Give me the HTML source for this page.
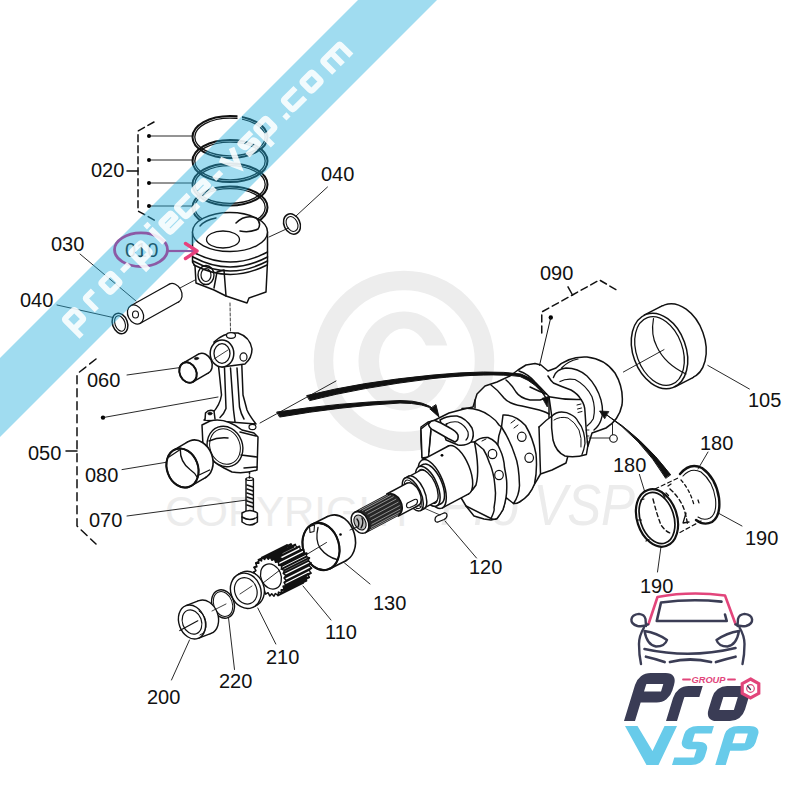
<!DOCTYPE html>
<html><head><meta charset="utf-8"><style>
html,body{margin:0;padding:0;background:#fff;width:800px;height:800px;overflow:hidden}
svg{display:block}
text{font-family:"Liberation Sans",sans-serif}
</style></head><body>
<svg width="800" height="800" viewBox="0 0 800 800">
<rect width="800" height="800" fill="#fff"/>
<circle cx="404" cy="361" r="80.5" fill="none" stroke="#ededed" stroke-width="19.5"/>
<path d="M358.5,361 A45.5,49.5 0 1 0 449.5,361 A45.5,49.5 0 1 0 358.5,361 Z M379,361 A25,32.5 0 1 1 429,361 A25,32.5 0 1 1 379,361 Z" fill="#ededed" fill-rule="evenodd"/>
<rect x="424" y="345.5" width="30" height="34.2" fill="#fff"/>
<g fill="#ececec">
<text x="165" y="526" font-size="42">COPYRIGHT</text>
<text x="440" y="525" font-size="58" font-style="italic" textLength="195" lengthAdjust="spacingAndGlyphs">Pro VSP</text>
</g>
<g fill="none" stroke="#111" stroke-width="1.5" stroke-linecap="round" stroke-linejoin="round">
<path d="M154,122 L138,131 L138,211 L156,221" stroke-dasharray="7,4"/>
<path d="M127,171 L138,171"/>
<circle cx="149" cy="136" r="2" fill="#000" stroke="none"/>
<path d="M149,136 L193,136" stroke-width="0.9"/>
<circle cx="149" cy="160" r="2" fill="#000" stroke="none"/>
<path d="M149,160 L193,160" stroke-width="0.9"/>
<circle cx="149" cy="183" r="2" fill="#000" stroke="none"/>
<path d="M149,183 L193,183" stroke-width="0.9"/>
<circle cx="149" cy="206" r="2" fill="#000" stroke="none"/>
<path d="M149,206 L193,206" stroke-width="0.9"/>
<ellipse cx="230" cy="137" rx="37.5" ry="21" stroke-width="2.0"/>
<ellipse cx="230" cy="137" rx="35.2" ry="18.9" stroke-width="1.3"/>
<ellipse cx="230" cy="161" rx="37.5" ry="21" stroke-width="2.0"/>
<ellipse cx="230" cy="161" rx="35.2" ry="18.9" stroke-width="1.3"/>
<ellipse cx="230" cy="184.5" rx="37.5" ry="21" stroke-width="2.0"/>
<ellipse cx="230" cy="184.5" rx="35.2" ry="18.9" stroke-width="1.3"/>
<ellipse cx="230" cy="207.5" rx="37.5" ry="21" stroke-width="2.0"/>
<ellipse cx="230" cy="207.5" rx="35.2" ry="18.9" stroke-width="1.3"/>
<path d="M192.5,232 L192.5,262 L195,266 L196,283 L214,290 L226,296 L247,303 L249,298 L266,292 L267.5,262 L267.5,232 Z" fill="#fff"/>
<ellipse cx="230" cy="232" rx="37.5" ry="19.5" fill="#fff" stroke-width="1.4"/>
<ellipse cx="223" cy="239.5" rx="16.5" ry="8.5" stroke-width="1.3"/>
<path d="M236,223 Q245,214 256,218 Q262,223 258,229 Q250,233 240,231"/>
<path d="M200,226 Q205,220 216,218"/>
<path d="M193,252 Q230,272 267.5,252"/>
<path d="M193,257 Q230,277 267.5,257" stroke-width="1.6"/>
<path d="M193,261 Q230,281 267.5,261"/>
<path d="M194,265 Q230,284 267,265"/>
<ellipse cx="206" cy="275" rx="8" ry="9.5" stroke-width="1.4"/>
<ellipse cx="206" cy="275" rx="5" ry="6.5" stroke-width="1.2"/>
<path d="M214,288 L217,272 L224,270 L226,296"/>
<path d="M230,303 L230.5,331" stroke-width="0.8" stroke-dasharray="3,2"/>
<ellipse cx="292" cy="224" rx="8" ry="10.5" transform="rotate(-25 292 224)" stroke-width="1.5"/>
<ellipse cx="292" cy="224" rx="5.5" ry="7.8" transform="rotate(-25 292 224)" stroke-width="1.1"/>
<path d="M327.5,187 L296,216" stroke-width="0.9"/>
<path d="M288.5,228 L269,237" stroke-width="0.9"/>
<ellipse cx="174" cy="293" rx="7.5" ry="10" transform="rotate(-28 174 293)" fill="#fff" stroke-width="1.3"/>
<path d="M140.3,323.3 L178.8,301.8 L169.2,284.2 L130.7,305.7Z" fill="#fff" stroke="none"/>
<path d="M140.3,323.3 L178.8,301.8 M130.7,305.7 L169.2,284.2" stroke-width="1.3"/>
<ellipse cx="135.5" cy="314.5" rx="7.5" ry="10" transform="rotate(-28 135.5 314.5)" fill="#fff" stroke-width="1.3"/>
<ellipse cx="135.5" cy="314.5" rx="3" ry="3.5" stroke-width="1.1"/>
<path d="M80,254 L136,301" stroke-width="0.9"/>
<path d="M180,288 L195,280" stroke-width="0.9"/>
<ellipse cx="120" cy="323.5" rx="7.5" ry="10.5" transform="rotate(-20 120 323.5)" stroke-width="1.5"/>
<ellipse cx="120" cy="323.5" rx="5" ry="8" transform="rotate(-20 120 323.5)" stroke-width="1.1"/>
<path d="M57,305 L113,317.5" stroke-width="0.9"/>
<rect x="237.5" y="112.5" width="4.5" height="8" fill="#fff" stroke="none"/>
<path d="M96,359 L77,374 L77,526 L96,544" stroke-dasharray="8,5"/>
<path d="M66,451 L77,451"/>
<circle cx="103" cy="417.6" r="2.2" fill="#000" stroke="none"/>
<path d="M103,417.6 L218,397" stroke-width="0.9"/>
<path d="M127,375 L184,367" stroke-width="0.9"/>
<path d="M122,469.6 L168,462" stroke-width="0.9"/>
<path d="M127,516 L247,500" stroke-width="0.9"/>
<ellipse cx="203.5" cy="363.5" rx="8.3" ry="10.6" transform="rotate(-25 203.5 363.5)" fill="#fff" stroke-width="1.5"/>
<path d="M193,381.8 L208.5,372.8 L198.5,354.2 L183,363.2Z" fill="#fff" stroke="none"/>
<path d="M193,381.8 L208.5,372.8 M183,363.2 L198.5,354.2" stroke-width="1.5"/>
<ellipse cx="188" cy="372.5" rx="8.3" ry="10.6" transform="rotate(-25 188 372.5)" fill="#fff" stroke-width="1.5"/>
<ellipse cx="188" cy="372.5" rx="8.3" ry="10.6" transform="rotate(-25 188 372.5)" stroke-width="1.9"/>
<ellipse cx="196.5" cy="358.5" rx="2.3" ry="1.2" transform="rotate(-8 196.5 358.5)" fill="#111" stroke-width="0.5"/>
<path d="M218.5,366 L220,380 L221.5,395 Q220,405 212.5,413 L204,420 L256,424 Q249,415 247,410 L243,395 L241.75,363.5 Z" fill="#fff"/>
<path d="M224.5,368 L226,408.5 Q224,414 220,417.5"/>
<path d="M230.5,368 L233.5,410 L235,422"/>
<path d="M237,368 L239.5,407 Q241,414 244,419"/>
<path d="M214,342 Q224,332 238,333 Q250,337 252,349 Q252,358 245,364 L222,367 Z" fill="#fff"/>
<ellipse cx="222" cy="353.5" rx="11.8" ry="13.5" fill="#fff" stroke-width="1.5"/>
<ellipse cx="222" cy="353.5" rx="8" ry="9.8" stroke-width="1.3"/>
<path d="M214,359 L228,350" stroke-width="0.8"/>
<ellipse cx="231" cy="335.5" rx="4.5" ry="2.8" fill="#fff" stroke-width="1.2"/>
<ellipse cx="243.5" cy="357" rx="3.5" ry="4.2" fill="#fff" stroke-width="1.2"/>
<path d="M202,425 L210,421 Q225,417 242,430 L254,433 L258,437 L257,470 Q245,474 232,472 L224,468 Q212,462 206,452 L203,446 Z" fill="#fff"/>
<ellipse cx="225" cy="446.5" rx="17.5" ry="20.6" transform="rotate(-20 225 446.5)" fill="#fff" stroke-width="1.4"/>
<ellipse cx="225" cy="446.5" rx="15" ry="18" transform="rotate(-20 225 446.5)" stroke-width="1.0"/>
<path d="M209,441 Q218,437 228,438"/>
<path d="M240,432 L256,436 M241,455 L257,457 M244,468 L257,467"/>
<ellipse cx="252.5" cy="427" rx="3.5" ry="2.6" stroke-width="1.2"/>
<path d="M205,420 L205.5,413 Q209,409 214,411 L215,419" fill="#fff"/>
<ellipse cx="210" cy="413.5" rx="2.2" ry="1.6" fill="#111" stroke-width="0.5"/>
<path d="M249.5,472 L249.5,478" stroke-dasharray="2,2"/>
<ellipse cx="197" cy="459.5" rx="15.5" ry="20" transform="rotate(-20 197 459.5)" fill="#fff" stroke-width="1.6"/>
<path d="M191.3,485.9 L205.8,477.4 L188.2,441.6 L173.7,450.1Z" fill="#fff" stroke="none"/>
<path d="M191.3,485.9 L205.8,477.4 M173.7,450.1 L188.2,441.6" stroke-width="1.6"/>
<ellipse cx="182.5" cy="468" rx="15.5" ry="20" transform="rotate(-20 182.5 468)" fill="#fff" stroke-width="1.6"/>
<ellipse cx="182.5" cy="468" rx="15.5" ry="20" transform="rotate(-20 182.5 468)" stroke-width="2.0"/>
<path d="M180.3,449.5 Q180,462 190,469.5 Q195,473 197,477" stroke-width="1.4"/>
<path d="M169,457 L179.5,450 M198,475.5 L209.6,470" stroke-width="1.3"/>
<path d="M246,479 L246,514 M253.4,479 L253.4,514" stroke-width="1.4"/>
<ellipse cx="249.7" cy="479" rx="3.7" ry="1.5" stroke-width="1.2"/>
<path d="M247,485 L253,487 M247,489 L253,491 M247,493 L253,495 M247,497 L253,499 M247,501 L253,503 M247,505 L253,507" stroke-width="1.6"/>
<path d="M242,513 L242,522 Q250,528 257.4,522 L257.4,513 Q250,508 242,513 Z" fill="#fff" stroke-width="1.5"/>
<path d="M242,517 Q250,522 257.4,517"/>
<path d="M426,462 L422,457 L421,440 L421,427 L428,422 L433,421 L439,418 L449,413 L464,409 L473,407 L477,394 L485,386 L497,382 L510,376 L518,370 L526,365 L535,363.5 L541,365 L548,371 L556,368 Q568,356 587,357 Q605,359 615,373 Q624,388 622,405 Q619,420 606,428 L592,433 L588,446 L578,452 L569,452 L566,463 L552,470 L540.5,474 L537,480 L534.5,484 L528.5,494.5 L519.5,502 L513.5,503.5 L506,497.5 L503,509.5 L497,518.5 L491,520 L484,519 L474,516 L466,506 L460,496 L450,480 L440,466 L426,462 Z" fill="#fff" stroke-width="1.5"/>
<path d="M553.4,377.5 Q556,369 566,368 Q578,368 587,376 Q597,386 601,400 Q604,412 601,420 Q599,426 594,430" stroke-width="1.4"/>
<path d="M560,381.6 Q566,378 575,379.5 Q586,385 592,396.75 Q596,408 593.3,418.75 Q591,423 587,426" stroke-width="1.2"/>
<path d="M561.6,368 Q568,361 578,359" stroke-width="1.2"/>
<path d="M549,396.75 Q565,400 581,399.5 Q585,405 585,412 L586.4,432.5 L587.8,446 L586.4,454.5 Q575,458 565,456 Q556,452 553,440 Q551,428 551.6,415 Z" fill="#fff"/>
<path d="M552,416 Q556,412 561.6,412 Q567,412 571,414.6 Q576,417 578,421.5 Q582,426 583.6,432.5 Q585,438 585,443.5 Q584,450 582,454.5" stroke-width="1.3"/>
<path d="M554,420 Q560,416 568,418 Q575,422 579,430 Q582,438 581,447" stroke-width="1.0"/>
<path d="M577,405 L581,404 M577.5,409 L581.5,408 M578,412.5 L582,411.5" stroke-width="1"/>
<path d="M586,430 L589,430 M586.5,436 L589,436 M587,442 L589.5,442" stroke-width="0.9"/>
<path d="M589,438 L609.8,438" stroke-width="0.9"/>
<ellipse cx="613.5" cy="438.5" rx="3.8" ry="3.8" fill="#fff" stroke-width="1.1"/>
<path d="M612.5,434.5 L612.5,424" stroke-width="0.9"/>
<path d="M548,376 Q551,381 553.4,383 Q560,386 571,390 Q578,394 581,399.5"/>
<path d="M530,387 Q538,391 546.5,394 Q549,396 549,397 L549,417.4"/>
<path d="M491,385 Q498,390 504,398 Q509,404 522,406 L535,409 Q544,411 549,414"/>
<path d="M506,380 Q512,385 516,392 Q520,398 530,400 L540,400 Q546,398 549,397"/>
<path d="M519,371 Q528,374 535,382 Q541,388 546.5,394"/>
<path d="M539,427 L540.5,473.5"/>
<path d="M539,427 Q546,420 552,416"/>
<path d="M503,415 Q515,414 525.5,425.5 Q533,438 536,454 Q537.5,470 534.5,484 Q530,496 519.5,502 Q516,504 513.5,503.5 Q519,496 519.5,485.5 Q519,465 515,455.5 Q510,440 501.5,427 Z" fill="#fff"/>
<ellipse cx="521.8" cy="436.8" rx="4.3" ry="4.6" stroke-width="1.2"/>
<ellipse cx="529.2" cy="457.8" rx="4.3" ry="4.6" stroke-width="1.2"/>
<path d="M511,423 L515,420 M514,428 L518,425" stroke-width="1"/>
<path d="M462,408.5 Q478,407 490,416 Q496,420 499,425 L501.5,427"/>
<path d="M475,408 L475,400"/>
<path d="M501.5,427 Q498,436 497.75,445"/>
<path d="M471,442 L474.5,442"/>
<path d="M474.5,442 Q480,437 488,437.5 Q497,441 500,449.5 Q504,458 504.5,467.5 Q507,480 506.75,484 Q507,492 506,497.5 Q505,504 503,509.5 Q500,515 497,518.5 Q494,520 491,518.5 Q495,510 494,508 Q495.5,500 495.5,493 Q495,485 494,478 Q492,468 489.5,463 Q487,455 483.5,449.5 Z" fill="#fff"/>
<ellipse cx="492.5" cy="454" rx="4.3" ry="4.6" stroke-width="1.2"/>
<ellipse cx="499" cy="475" rx="4.3" ry="4.6" stroke-width="1.2"/>
<path d="M482,441 L486,439" stroke-width="1"/>
<path d="M466,506 Q478,512 491,518.5"/>
<path d="M460,496 Q470,495 476,485 Q480,470 474.5,442"/>
<path d="M440,420 Q447,415.5 457,416 Q466,418 472,428 Q475,436 471,442 Q466,446 458,445 L446,440 Z" fill="#fff"/>
<path d="M446,424 Q452,421 458,422 Q465,425 468,432 Q469,437 466,440" stroke-width="1.2"/>
<path d="M444,427 L447,424 M446,430 Q449,428 451,430" stroke-width="1.1"/>
<path d="M421,429 L428.5,423 L431,428.5 L428.5,457 L422,458 Z" fill="#fff"/>
<path d="M428.5,424 Q431,420 435,420.5 L441,423 L450,428 Q456,431 458,435 Q459,440 455,442 L448,438.5 L434,430.5 Q429,428 428.5,424 Z" fill="#fff" stroke-width="1.6"/>
<path d="M431,431 L429,452" stroke-width="1.2"/>
<ellipse cx="458.6" cy="469.9" rx="11" ry="26" transform="rotate(-22 458.6 469.9)" fill="#fff" stroke-width="1.5"/>
<path d="M442.3,507.9 L468.7,493.8 L448.4,446 L422,460.1Z" fill="#fff" stroke="none"/>
<path d="M442.3,507.9 L468.7,493.8 M422,460.1 L448.4,446" stroke-width="1.5"/>
<ellipse cx="432.2" cy="484" rx="11" ry="26" transform="rotate(-22 432.2 484)" fill="#fff" stroke-width="1.5"/>
<circle cx="442" cy="455.3" r="1.4" fill="#000" stroke="none"/>
<ellipse cx="432.2" cy="484" rx="9.5" ry="21.5" transform="rotate(-24 432.2 484)" fill="#fff" stroke-width="1.5"/>
<path d="M436.8,505.8 L441.2,503.5 L423.1,464.4 L418.7,466.8Z" fill="#fff" stroke="none"/>
<path d="M436.8,505.8 L441.2,503.5 M418.7,466.8 L423.1,464.4" stroke-width="1.5"/>
<ellipse cx="427.8" cy="486.3" rx="9.5" ry="21.5" transform="rotate(-24 427.8 486.3)" fill="#fff" stroke-width="1.5"/>
<ellipse cx="427.8" cy="486.3" rx="7" ry="18.5" transform="rotate(-24 427.8 486.3)" stroke-width="1.0"/>
<ellipse cx="427.8" cy="486.3" rx="8" ry="17.5" transform="rotate(-25 427.8 486.3)" fill="#fff" stroke-width="1.4"/>
<path d="M423.9,508.2 L435.3,502.1 L420.2,470.5 L408.7,476.6Z" fill="#fff" stroke="none"/>
<path d="M423.9,508.2 L435.3,502.1 M408.7,476.6 L420.2,470.5" stroke-width="1.4"/>
<ellipse cx="416.3" cy="492.4" rx="8" ry="18" transform="rotate(-25 416.3 492.4)" fill="#fff" stroke-width="1.5"/>
<path d="M420.6,510.5 L424.1,508.7 L408.6,476.2 L405,478.1Z" fill="#fff" stroke="none"/>
<path d="M420.6,510.5 L424.1,508.7 M405,478.1 L408.6,476.2" stroke-width="1.5"/>
<ellipse cx="412.8" cy="494.3" rx="8" ry="18" transform="rotate(-25 412.8 494.3)" fill="#fff" stroke-width="1.5"/>
<ellipse cx="412.8" cy="494.3" rx="6" ry="15.5" transform="rotate(-25 412.8 494.3)" stroke-width="1.0"/>
<ellipse cx="412.8" cy="494.3" rx="7" ry="12.5" transform="rotate(-27 412.8 494.3)" fill="#fff" stroke-width="1.5"/>
<path d="M398.3,516.2 L418.5,505.4 L407.1,483.2 L386.8,494Z" fill="#fff" stroke="none"/>
<path d="M398.3,516.2 L418.5,505.4 M386.8,494 L407.1,483.2" stroke-width="1.5"/>
<path d="M407.5,503 L414.5,499.5 Q417.5,498.5 417.5,501.5 Q417.5,504 414.5,505.5 L410,507.5 Q406.5,508.5 406.5,505.5 Q406.5,504 407.5,503 Z" stroke-width="1.2"/>
<ellipse cx="393.4" cy="504.6" rx="8" ry="11.5" transform="rotate(-28 393.4 504.6)" fill="#262626" stroke-width="1.5"/>
<path d="M365.4,532.7 L398.8,514.8 L388,494.5 L354.6,512.3Z" fill="#262626" stroke="none"/>
<path d="M365.4,532.7 L398.8,514.8 M354.6,512.3 L388,494.5" stroke-width="1.5"/>
<path d="M359.5,510.1 L387.5,495.2" stroke-width="0.9" stroke="#9a9a9a"/>
<path d="M362.4,510.4 L390.4,495.5" stroke-width="0.9" stroke="#9a9a9a"/>
<path d="M365.3,511.7 L393.3,496.8" stroke-width="0.9" stroke="#9a9a9a"/>
<path d="M367.9,514.1 L395.9,499.2" stroke-width="0.9" stroke="#9a9a9a"/>
<path d="M370.1,517.1 L398.1,502.2" stroke-width="0.9" stroke="#9a9a9a"/>
<path d="M371.4,520.6 L399.4,505.7" stroke-width="0.9" stroke="#9a9a9a"/>
<path d="M371.9,524.2 L399.9,509.3" stroke-width="0.9" stroke="#9a9a9a"/>
<path d="M371.4,527.3 L399.4,512.4" stroke-width="0.9" stroke="#9a9a9a"/>
<path d="M370,529.8 L398,514.9" stroke-width="0.9" stroke="#9a9a9a"/>
<ellipse cx="360" cy="522.5" rx="8" ry="11.5" transform="rotate(-28 360 522.5)" fill="#fff" stroke-width="1.5"/>
<ellipse cx="360" cy="522.5" rx="5.5" ry="8" transform="rotate(-28 360 522.5)" fill="#bbb" stroke-width="1.1"/>
<path d="M357,519 Q360,523 358,527 M362,518 Q364,523 361,528" stroke-width="1.4"/>
<path d="M437,516 L444,513 Q447,512.5 447,515.5 Q447,518 444,519.5 L438,522 Q435,522.5 435,519.5 Q435,517 437,516 Z" fill="#fff" stroke-width="1.3"/>
<path d="M445,521 L476.5,558" stroke-width="0.9"/>
<path d="M417,505 L440,515" stroke-width="0.8"/>
<path d="M541.75,333 L541.75,312 L599.5,280 L617.5,290.5" stroke-dasharray="7,4"/>
<path d="M568,286.8 L572.5,295"/>
<circle cx="550.8" cy="317.5" r="2.2" fill="#000" stroke="none"/>
<path d="M550.8,317.5 L539.5,365.5" stroke-width="1.0"/>
<ellipse cx="678" cy="341.5" rx="26.5" ry="39" transform="rotate(-20 678 341.5)" fill="#fff" stroke-width="1.5"/>
<path d="M674.9,386.8 L693.4,377.3 L662.6,305.7 L644.1,315.2Z" fill="#fff" stroke="none"/>
<path d="M674.9,386.8 L693.4,377.3 M644.1,315.2 L662.6,305.7" stroke-width="1.5"/>
<ellipse cx="659.5" cy="351" rx="26.5" ry="39" transform="rotate(-20 659.5 351)" fill="#fff" stroke-width="1.5"/>
<ellipse cx="659.5" cy="351" rx="23" ry="35.5" transform="rotate(-20 659.5 351)" stroke-width="1.3"/>
<path d="M653.5,318.5 Q650.5,335 657,347 Q665,364 686,374" stroke-width="1.2"/>
<path d="M623.4,372 L664,349.6" stroke-width="0.9"/>
<path d="M707.8,365.4 L749.4,389" stroke-width="0.9"/>
<path d="M307,395.5 Q360,382 433,375 Q490,369.5 521,374 Q539,380 546.5,399 Q537,383 520,376.5 Q490,372.5 433,378.5 Q360,387.5 310,400.5 Z" fill="#111" stroke-width="1"/>
<path d="M542.5,398.5 L547.3,407 L548.7,397 Z" fill="#111" stroke-width="0.8"/>
<path d="M277,412 Q340,402.5 400,400.5 Q426,400.5 436,411 Q425,403 400,403 Q340,406.5 280,417 Z" fill="#111" stroke-width="1"/>
<path d="M430,409 L439,417 L436,405 Z" fill="#111" stroke-width="1"/>
<path d="M260,423 L336,381" stroke-width="0.9"/>
<path d="M670.5,474.5 Q642,437 604,413 Q641.6,438.3 665.5,478 Z" fill="#111" stroke-width="1"/>
<path d="M608.5,411.5 L599.5,411 L604.5,418.5 Z" fill="#111" stroke-width="0.8"/>
<path d="M680,474 Q690,462 702,468 Q716,478 719,498 Q721,516 712,522 Q704,526 696,520" stroke-width="2.4"/>
<path d="M683,476 Q691,467 701,472 Q713,481 715.5,499 Q717,514 710,518 Q704,521 698,517" stroke-width="1.1"/>
<path d="M655,489 L679,477.5 M680,532.5 L701,521" stroke-dasharray="4,3" stroke-width="1.2"/>
<path d="M670,489 Q682,500 685,512.5 Q687,520 687.5,524" stroke-dasharray="4,3" stroke-width="1.4"/>
<path d="M653,499 Q657,515 661,525 Q665,531 670,533" stroke-dasharray="4,3" stroke-width="1.4"/>
<path d="M681,480 Q690,490 694,505 M698,500 L699,503" stroke-dasharray="3,3" stroke-width="1.3"/>
<path d="M662,492 L665,498 M668,486 L671,484 M686,513 L683,523 L689,522" stroke-width="1.3"/>
<ellipse cx="657" cy="518" rx="20" ry="29.5" transform="rotate(-18 657 518)" stroke-width="2.2"/>
<ellipse cx="657" cy="518" rx="16.8" ry="26.3" transform="rotate(-18 657 518)" stroke-width="1.7"/>
<path d="M641,500 L644,499 M638,520 L641.5,520 M646,541 L649,539.5 M666,493 L668.5,495.5" stroke-width="1.2"/>
<path d="M639.4,474.4 L644.4,490.6" stroke-width="0.9"/>
<path d="M708,452 L698,469" stroke-width="0.9"/>
<path d="M719,513.5 L742,526" stroke-width="0.9"/>
<path d="M661,546.5 L657.5,572" stroke-width="0.9"/>
<ellipse cx="337" cy="538.5" rx="18" ry="24" transform="rotate(-16 337 538.5)" fill="#fff" stroke-width="1.6"/>
<path d="M329.9,568.7 L345.9,560.7 L328.1,516.3 L312.1,524.3Z" fill="#fff" stroke="none"/>
<path d="M329.9,568.7 L345.9,560.7 M312.1,524.3 L328.1,516.3" stroke-width="1.6"/>
<ellipse cx="321" cy="546.5" rx="18" ry="24" transform="rotate(-16 321 546.5)" fill="#fff" stroke-width="1.6"/>
<ellipse cx="321" cy="546.5" rx="18" ry="24" transform="rotate(-16 321 546.5)" stroke-width="2.1"/>
<path d="M318,527.5 Q315,540 320,548 Q327,557 337,559.5" stroke-width="1.3"/>
<path d="M309.5,526.5 L314.5,525 L314,531.5 L310,532.5 Z" stroke-width="1.1"/>
<circle cx="340.5" cy="534.5" r="1.3" fill="#000" stroke="none"/>
<path d="M305,555.5 L326.5,542.5" stroke-width="0.9"/>
<path d="M344.5,563 L370,584" stroke-width="0.9"/>
<path d="M350,530 L357,527" stroke-width="0.9"/>
<path d="M309.3,557.9 L308.2,560.9 L310.9,563.0 L309.1,565.4 L311.4,568.2 L309.1,569.8 L310.8,573.1 L308.1,573.8 L309.1,577.3 L306.2,577.2 L306.4,580.7 L303.5,579.6 L303.0,582.9 L300.3,581.0 L299.0,583.8 L296.7,581.2 L294.8,583.4 L293.0,580.2 L290.6,581.6 L289.4,578.2 L286.6,578.7 L286.2,575.2 L283.3,574.7 L283.6,571.4 L280.7,570.1 L281.8,567.1 L279.1,565.0 L280.9,562.6 L278.6,559.8 L280.9,558.2 L279.2,554.9 L281.9,554.2 L280.9,550.7 L283.8,550.8 L283.6,547.3 L286.5,548.4 L287.0,545.1 L289.7,547.0 L291.0,544.2 L293.3,546.8 L295.2,544.6 L297.0,547.8 L299.4,546.4 L300.6,549.8 L303.4,549.3 L303.8,552.8 L306.7,553.3 L306.4,556.6Z" fill="#fff" stroke-width="1.3"/>
<path d="M278.6,595.1 L303.6,582.6 L286.4,545.4 L261.4,557.9Z" fill="#fff" stroke="none"/>
<path d="M278.6,595.1 L303.6,582.6 M261.4,557.9 L286.4,545.4" stroke-width="0.1"/>
<path d="M284.3,570.4 L309.3,557.9 M283.2,573.4 L308.2,560.9 M285.9,575.5 L310.9,563.0 M284.1,577.9 L309.1,565.4 M286.4,580.7 L311.4,568.2 M284.1,582.3 L309.1,569.8 M285.8,585.6 L310.8,573.1 M283.1,586.3 L308.1,573.8 M284.1,589.8 L309.1,577.3 M281.2,589.7 L306.2,577.2 M281.4,593.2 L306.4,580.7 M278.5,592.1 L303.5,579.6 M278.0,595.4 L303.0,582.9 M253.6,572.3 L278.6,559.8 M255.9,570.7 L280.9,558.2 M254.2,567.4 L279.2,554.9 M256.9,566.7 L281.9,554.2 M255.9,563.2 L280.9,550.7 M258.8,563.3 L283.8,550.8 M258.6,559.8 L283.6,547.3 M261.5,560.9 L286.5,548.4 M262.0,557.6 L287.0,545.1 M264.7,559.5 L289.7,547.0 M266.0,556.7 L291.0,544.2 M268.3,559.3 L293.3,546.8 M270.2,557.1 L295.2,544.6 M272.0,560.3 L297.0,547.8 M274.4,558.9 L299.4,546.4 M275.6,562.3 L300.6,549.8 M278.4,561.8 L303.4,549.3 M278.8,565.3 L303.8,552.8 M281.7,565.8 L306.7,553.3 M281.4,569.1 L306.4,556.6" stroke-width="1.9"/>
<path d="M284.3,570.4 L283.2,573.4 L285.9,575.5 L284.1,577.9 L286.4,580.7 L284.1,582.3 L285.8,585.6 L283.1,586.3 L284.1,589.8 L281.2,589.7 L281.4,593.2 L278.5,592.1 L278.0,595.4 L275.3,593.5 L274.0,596.3 L271.7,593.7 L269.8,595.9 L268.0,592.7 L265.6,594.1 L264.4,590.7 L261.6,591.2 L261.2,587.7 L258.3,587.2 L258.6,583.9 L255.7,582.6 L256.8,579.6 L254.1,577.5 L255.9,575.1 L253.6,572.3 L255.9,570.7 L254.2,567.4 L256.9,566.7 L255.9,563.2 L258.8,563.3 L258.6,559.8 L261.5,560.9 L262.0,557.6 L264.7,559.5 L266.0,556.7 L268.3,559.3 L270.2,557.1 L272.0,560.3 L274.4,558.9 L275.6,562.3 L278.4,561.8 L278.8,565.3 L281.7,565.8 L281.4,569.1Z" fill="#fff" stroke-width="1.5"/>
<ellipse cx="271" cy="576.5" rx="10" ry="13" transform="rotate(-23 271 576.5)" stroke-width="1.3"/>
<path d="M263,583 L280,570" stroke-width="0.9"/>
<path d="M303,586 L331,620" stroke-width="0.9"/>
<ellipse cx="249" cy="589" rx="15" ry="18" transform="rotate(-21 249 589)" fill="#fff" stroke-width="1.4"/>
<path d="M253.6,606.9 L256.9,605.2 L241.1,572.8 L237.9,574.6Z" fill="#fff" stroke="none"/>
<path d="M253.6,606.9 L256.9,605.2 M237.9,574.6 L241.1,572.8" stroke-width="1.4"/>
<ellipse cx="245.8" cy="590.8" rx="15" ry="18" transform="rotate(-21 245.8 590.8)" fill="#fff" stroke-width="1.4"/>
<ellipse cx="245.8" cy="590.8" rx="11" ry="13.5" transform="rotate(-21 245.8 590.8)" stroke-width="1.2"/>
<path d="M257.8,608 L275.8,644" stroke-width="0.9"/>
<path d="M240,594 L252,586" stroke-width="0.8"/>
<ellipse cx="223" cy="604" rx="11" ry="14.5" transform="rotate(-20 223 604)" stroke-width="1.4"/>
<ellipse cx="223" cy="604" rx="9.3" ry="12.8" transform="rotate(-20 223 604)" stroke-width="1.0"/>
<path d="M228.5,617.8 L234.5,669.5" stroke-width="0.9"/>
<ellipse cx="205" cy="617" rx="13" ry="17.5" transform="rotate(-20 205 617)" fill="#fff" stroke-width="1.4"/>
<path d="M198.1,638.4 L211.1,633.4 L198.9,600.6 L185.9,605.6Z" fill="#fff" stroke="none"/>
<path d="M198.1,638.4 L211.1,633.4 M185.9,605.6 L198.9,600.6" stroke-width="1.4"/>
<ellipse cx="192" cy="622" rx="13" ry="17.5" transform="rotate(-20 192 622)" fill="#fff" stroke-width="1.4"/>
<ellipse cx="192" cy="622" rx="9.5" ry="12.5" transform="rotate(-20 192 622)" stroke-width="1.2"/>
<path d="M199,611 Q207,616 206,627 Q205,633 200,635" stroke-width="1.0"/>
<path d="M179.8,630.5 L197.8,620.8" stroke-width="1.2"/>
<path d="M189.5,640 L171.5,680" stroke-width="0.9"/>
<path d="M212,611 L226,604" stroke-width="0.8"/>
</g>
<g font-size="20" fill="#111">
<text x="91" y="177">020</text>
<text x="51" y="251">030</text>
<text x="20" y="307">040</text>
<text x="321" y="181">040</text>
<text x="87" y="387">060</text>
<text x="28" y="460">050</text>
<text x="85" y="482">080</text>
<text x="89" y="527">070</text>
<text x="540" y="280">090</text>
<text x="748" y="407">105</text>
<text x="700" y="450">180</text>
<text x="613" y="472">180</text>
<text x="745" y="545">190</text>
<text x="640" y="593">190</text>
<text x="469" y="574">120</text>
<text x="373" y="610">130</text>
<text x="325" y="639">110</text>
<text x="266" y="664">210</text>
<text x="219" y="688">220</text>
<text x="147" y="704">200</text>
</g>
<text x="125" y="257" font-size="20" fill="#1a1a1a">010</text>
<!-- banner -->
<polygon points="358,0 437,0 0,437 0,358" fill="rgb(35,174,221)" fill-opacity="0.43"/>
<ellipse cx="141" cy="249.7" rx="26.5" ry="16.8" fill="none" stroke="#8c5aa5" stroke-width="2.8"/>
<path d="M168,251 L194,251" stroke="#8c5aa5" stroke-width="2.2" fill="none"/>
<path d="M185.5,243.5 L197,251 L185.5,258.5" stroke="#e8407c" stroke-width="3.4" fill="none" stroke-linecap="round" stroke-linejoin="round"/>
<g opacity="0.87" fill="none" stroke="#fff" stroke-width="5.8" stroke-linejoin="round"><path transform="translate(73.89,333.11) rotate(-45)" d="M2.9,8 L2.9,-14.400000000000002 Q2.9,-16.6 5.1,-16.6 L14.900000000000002,-16.6 Q17.1,-16.6 17.1,-14.400000000000002 L17.1,-5.1 Q17.1,-2.9 14.900000000000002,-2.9 L2.9,-2.9"/><path transform="translate(94.75,312.25) rotate(-45)" d="M2.9,0 L2.9,-14.400000000000002 Q2.9,-16.6 5.1,-16.6 L14,-16.6"/><path transform="translate(110.23,296.77) rotate(-45)" d="M5.1,-16.6 L14.900000000000002,-16.6 Q17.1,-16.6 17.1,-14.400000000000002 L17.1,-5.1 Q17.1,-2.9 14.900000000000002,-2.9 L5.1,-2.9 Q2.9,-2.9 2.9,-5.1 L2.9,-14.400000000000002 Q2.9,-16.6 5.1,-16.6 Z"/><path transform="translate(128.90,278.10) rotate(-45)" d="M0,-9.75 L10,-9.75"/><path transform="translate(140.50,266.50) rotate(-45)" d="M2.9,8 L2.9,-14.400000000000002 Q2.9,-16.6 5.1,-16.6 L14.900000000000002,-16.6 Q17.1,-16.6 17.1,-14.400000000000002 L17.1,-5.1 Q17.1,-2.9 14.900000000000002,-2.9 L2.9,-2.9"/><path transform="translate(162.28,244.72) rotate(-45)" d="M2.9,0 L2.9,-19.5 M2.9,-21.7 L2.9,-26.7"/><path transform="translate(170.27,236.73) rotate(-45)" d="M2.9,-9.75 L17.1,-9.75 L17.1,-14.400000000000002 Q17.1,-16.6 14.900000000000002,-16.6 L5.1,-16.6 Q2.9,-16.6 2.9,-14.400000000000002 L2.9,-5.1 Q2.9,-2.9 5.1,-2.9 L20,-2.9"/><path transform="translate(185.86,221.14) rotate(-45)" d="M20.5,-16.6 L5.1,-16.6 Q2.9,-16.6 2.9,-14.400000000000002 L2.9,-5.1 Q2.9,-2.9 5.1,-2.9 L20.5,-2.9"/><path transform="translate(202.79,204.21) rotate(-45)" d="M2.9,-9.75 L17.1,-9.75 L17.1,-14.400000000000002 Q17.1,-16.6 14.900000000000002,-16.6 L5.1,-16.6 Q2.9,-16.6 2.9,-14.400000000000002 L2.9,-5.1 Q2.9,-2.9 5.1,-2.9 L20,-2.9"/><path transform="translate(221.04,185.96) rotate(-45)" d="M0,-9.75 L10,-9.75"/><path transform="translate(232.49,174.51) rotate(-45)" d="M1.8,-19.5 L10,-1.2 L18.2,-19.5" stroke-linejoin="miter"/><path transform="translate(249.53,157.47) rotate(-45)" d="M19,-16.6 L4.1,-16.6 Q2.9,-16.6 2.9,-15.400000000000002 Q2.9,-9.75 5.1,-9.75 L13.900000000000002,-9.75 Q16.1,-9.75 16.1,-4.1 Q16.1,-2.9 14.900000000000002,-2.9 L0,-2.9"/><path transform="translate(265.16,141.84) rotate(-45)" d="M2.9,8 L2.9,-14.400000000000002 Q2.9,-16.6 5.1,-16.6 L14.900000000000002,-16.6 Q17.1,-16.6 17.1,-14.400000000000002 L17.1,-5.1 Q17.1,-2.9 14.900000000000002,-2.9 L2.9,-2.9"/><path transform="translate(286.44,120.56) rotate(-45)" d="M2.9,0 L2.9,-5.8"/><path transform="translate(292.77,114.23) rotate(-45)" d="M20.5,-16.6 L5.1,-16.6 Q2.9,-16.6 2.9,-14.400000000000002 L2.9,-5.1 Q2.9,-2.9 5.1,-2.9 L20.5,-2.9"/><path transform="translate(311.40,95.60) rotate(-45)" d="M5.1,-16.6 L14.900000000000002,-16.6 Q17.1,-16.6 17.1,-14.400000000000002 L17.1,-5.1 Q17.1,-2.9 14.900000000000002,-2.9 L5.1,-2.9 Q2.9,-2.9 2.9,-5.1 L2.9,-14.400000000000002 Q2.9,-16.6 5.1,-16.6 Z"/><path transform="translate(332.19,74.81) rotate(-45)" d="M2.9,0 L2.9,-14.400000000000002 Q2.9,-16.6 5.1,-16.6 L24.900000000000002,-16.6 Q27.1,-16.6 27.1,-14.400000000000002 L27.1,0 M15,-16.6 L15,0"/></g>
<!-- logo -->
<g fill="none" stroke-linecap="round" stroke-linejoin="round">
<path d="M648.5,624 L657.5,597 Q690,591 725,595.5 L735.5,624" stroke="#e2457b" stroke-width="2.6"/>
<path d="M661,602.5 Q691,598.5 721.5,601.6 M661,602.5 L656.75,621 L726.75,621 L725,614.5" stroke="#3b3d55" stroke-width="2.6"/>
<path d="M648,624.4 Q643,627 637.5,626 Q631,624 631.4,619.5 Q632,614.5 639,613.9 Q644.5,614.5 645.5,619 L646,626" stroke="#3b3d55" stroke-width="2.4"/>
<path d="M735.5,624.4 Q740.5,627 746,626 Q752.5,624 752.1,619.5 Q751.5,614.5 744.5,613.9 Q739,614.5 738,619 L737.5,626" stroke="#3b3d55" stroke-width="2.4"/>
<path d="M644,627.5 Q639,636 639,644 Q639,655 641,664" stroke="#3b3d55" stroke-width="2.4"/>
<path d="M739.5,627.5 Q744.5,636 744.5,644 Q744.5,655 742.5,664" stroke="#3b3d55" stroke-width="2.4"/>
<path d="M644.5,631 Q657,633 667,640 Q665,646.5 656,646.5 Q647,645 644.5,631 Z" stroke="#3b3d55" stroke-width="2.4"/>
<path d="M739,631 Q726.5,633 716.5,640 Q718.5,646.5 727.5,646.5 Q736.5,645 739,631 Z" stroke="#3b3d55" stroke-width="2.4"/>
<path d="M644.5,649 Q690,659 735.5,648" stroke="#3b3d55" stroke-width="2.6"/>
<path d="M646,656.75 Q656,659 664.6,662 M670,662 Q690,657 711,662 M716,662 Q726,659 735.5,656.75" stroke="#3b3d55" stroke-width="2.8"/>
<path d="M683,679.5 L690,679.5 M728,679.5 L735,679.5" stroke="#e2457b" stroke-width="1.8"/>
</g>
<text x="691.5" y="683" font-size="9.5" font-weight="bold" font-style="italic" fill="#e2457b" textLength="34" lengthAdjust="spacingAndGlyphs">GROUP</text>
<g fill="none" stroke-linecap="butt" stroke-linejoin="round">
<g transform="translate(0,721) skewX(-17) translate(0,-721)" stroke="#3a3c55" stroke-width="11">
<path d="M629.5,721 L629.5,685 Q629.5,678.5 636,678.5 L651,678.5 Q657.5,678.5 657.5,685 L657.5,690.5 Q657.5,697 651,697 L630,697"/>
<path d="M671.5,721 L671.5,698 Q671.5,691.5 678,691.5 L692,691.5"/>
<path d="M716.5,691.5 L730,691.5 Q736,691.5 736,697.5 L736,709.5 Q736,715.5 730,715.5 L716.5,715.5 Q710.5,715.5 710.5,709.5 L710.5,697.5 Q710.5,691.5 716.5,691.5 Z"/>
</g>
<path d="M625,726 L637.5,726 L652.5,751 L664.5,726 L677,726 L658.5,765 L646.5,765 Z" fill="#68cbea" stroke="none"/>
<g transform="translate(0,765) skewX(-17) translate(0,-765) translate(690.0,0) scale(1.4,1) translate(-690.0,0)" stroke="#68cbea" stroke-width="7.5">
<path d="M698.57,729.75 L687.14,729.75 Q682.86,729.75 682.86,734.25 L682.86,741.0 Q682.86,745.5 687.14,745.5 L690.71,745.5 Q695.00,745.5 695.00,750.0 L695.00,756.75 Q695.00,761.25 690.71,761.25 L677.14,761.25"/>
<path d="M711.79,765 L711.79,734.25 Q711.79,729.75 716.07,729.75 L723.93,729.75 Q728.21,729.75 728.21,734.25 L728.21,742.5 Q728.21,747 723.93,747 L712.14,747"/>
</g>
</g>
<polygon points="750.5,679 758.8,683.7 758.8,693.3 750.5,698 742.2,693.3 742.2,683.7" fill="#fff" stroke="#e2457b" stroke-width="3.2"/>
<circle cx="750.5" cy="688.5" r="3.8" fill="#fff" stroke="#e2457b" stroke-width="1.2"/>
<path d="M747.5,686 L750.5,689.5" stroke="#3b3d55" stroke-width="1.3" stroke-linecap="round"/>
</svg>
</body></html>
